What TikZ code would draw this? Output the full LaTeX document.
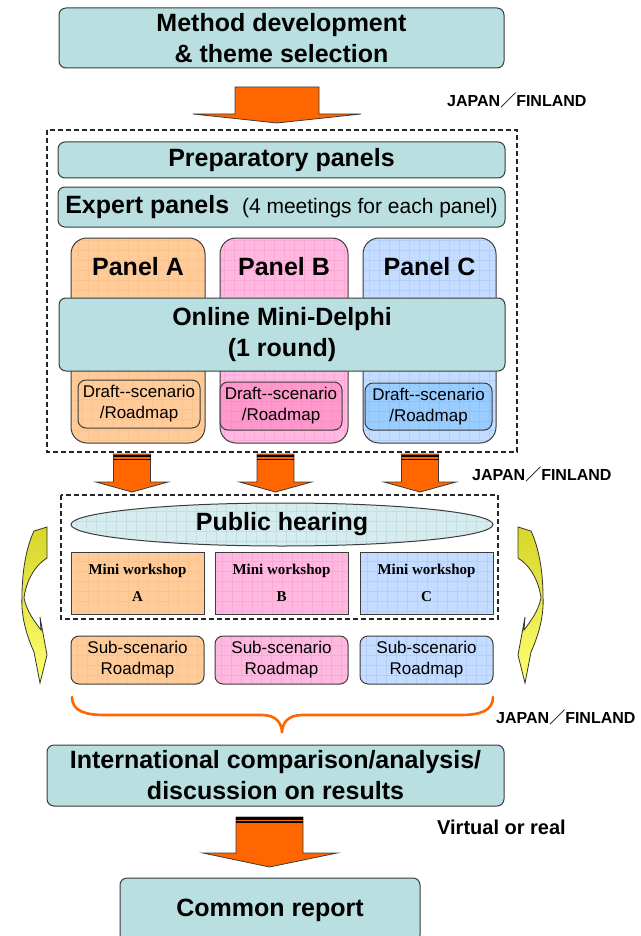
\documentclass[tikz,border=0pt]{standalone}
\usepackage{fontspec}
\setmainfont{Liberation Sans}
\newfontfamily\serifwk{Liberation Serif}
\newfontfamily\cjkslash{Noto Sans CJK JP}
\usetikzlibrary{shapes.geometric}
\definecolor{edgec}{HTML}{3C3C3C}
\definecolor{tealF}{HTML}{B9DFE1}
\definecolor{orgF}{HTML}{FFCC99}
\definecolor{orgG}{HTML}{FAC28C}
\definecolor{pnkF}{HTML}{FFB8E0}
\definecolor{pnkG}{HTML}{FCA8D6}
\definecolor{pnkD}{HTML}{FF99CC}
\definecolor{pnkDG}{HTML}{F78FC5}
\definecolor{bluF}{HTML}{C4DCFF}
\definecolor{bluG}{HTML}{B2CFF7}
\definecolor{bluD}{HTML}{99CCFF}
\definecolor{bluDG}{HTML}{8FC2F4}
\definecolor{ellF}{HTML}{D6ECEE}
\definecolor{ellG}{HTML}{C2E0E3}
\definecolor{arrowF}{HTML}{FF6600}
\definecolor{yelT}{HTML}{D6D62A}
\definecolor{yelB}{HTML}{FFFF70}
\tikzset{
  tbox/.style={draw=edgec, fill=tealF, line width=1pt, rounded corners=7pt, align=center, inner sep=0pt, font=\bfseries\fontsize{25}{31}\selectfont},
  gridded/.style={path picture={\draw[line width=0.6pt,#1] ([shift={(-15pt,-15pt)}]path picture bounding box.south west) grid[step=10pt] ([shift={(15pt,15pt)}]path picture bounding box.north east);}},
  panelbox/.style={draw=edgec, line width=1pt, rounded corners=16pt, inner sep=0pt},
  panellabel/.style={inner sep=0pt, font=\bfseries\fontsize{25}{30}\selectfont},
  draftbox/.style={draw=edgec, line width=1pt, rounded corners=8pt, inner sep=0pt, align=center, font=\fontsize{17}{21}\selectfont},
  wsbox/.style={draw=edgec, line width=1pt, inner sep=0pt, align=center, font=\serifwk\bfseries\fontsize{15}{27}\selectfont},
  dashbox/.style={draw=black!85, dash pattern=on 5pt off 3pt, line width=1.1pt},
  blockarr/.style={fill=arrowF, draw=edgec, line width=0.8pt, line join=miter},
  stripe/.style={draw=black, line width=#1},
  note/.style={font=\bfseries\fontsize{16}{19}\selectfont, anchor=west, inner sep=0pt},
  yarrow/.style={draw=black!80, line width=0.8pt, top color=yelT, bottom color=yelB},
  bracec/.style={draw=arrowF, line width=2.6pt, line cap=round},
  yellowarrow/.pic={
    \path[yarrow] (34,531) -- (47,527) -- (47,558) .. controls (34,566) and (26,582) .. (24,598)
      .. controls (27,612) and (35,622) .. (41,630) -- (40,617) -- (47,655) -- (40,683) -- (34,652)
      .. controls (25,632) and (21,613) .. (22,597) .. controls (22,572) and (26,548) .. (34,531) -- cycle;
  },
}
\begin{document}
\begin{tikzpicture}[x=1pt,y=-1pt]
\path[use as bounding box, fill=white] (0,0) rectangle (640,936);

% top box
\node[tbox, minimum width=445pt, minimum height=60pt] (top) at (281.5,38) {Method development\\\& theme selection};

% arrow 1
\path[blockarr] (235,87) -- (319,87) -- (319,114) -- (361,114) -- (277,123) -- (193,114) -- (235,114) -- cycle;
\node[note] (jf1) at (447,100) {JAPAN{\cjkslash ／}FINLAND};

% dashed box 1
\path[dashbox] (47,130) rectangle (517,452);

\node[tbox, minimum width=447pt, minimum height=36pt] (prep) at (281.5,160) {Preparatory panels};
\node[tbox, minimum width=447pt, minimum height=40pt] (expert) at (281.5,207) {Expert panels {\mdseries\fontsize{21}{25}\selectfont\ (4 meetings for each panel)}};

% panels
\node[panelbox, fill=orgF, gridded=orgG, minimum width=134pt, minimum height=205pt] (pA) at (138,340.5) {};
\node[panelbox, fill=pnkF, gridded=pnkG, minimum width=128pt, minimum height=205pt] (pB) at (284,340.5) {};
\node[panelbox, fill=bluF, gridded=bluG, minimum width=133pt, minimum height=205pt] (pC) at (429.5,340.5) {};
\node[panellabel] (pAl) at (138,267) {Panel A};
\node[panellabel] (pBl) at (284,267) {Panel B};
\node[panellabel] (pCl) at (429.5,267) {Panel C};

\node[tbox, minimum width=446pt, minimum height=73pt] (delphi) at (282,334.5) {Online Mini-Delphi\\(1 round)};

\node[draftbox, fill=orgF, gridded=orgG, minimum width=122pt, minimum height=48pt] (dA) at (139,404) {Draft-{}-scenario\\/Roadmap};
\node[draftbox, fill=pnkD, gridded=pnkDG, minimum width=122pt, minimum height=48pt] (dB) at (281,406) {\makebox[0pt]{Draft-{}-scenario}\\/Roadmap};
\node[draftbox, fill=bluD, gridded=bluDG, minimum width=127pt, minimum height=47pt] (dC) at (428.5,406.5) {\makebox[0pt]{Draft-{}-scenario}\\/Roadmap};

% three arrows
\foreach \n/\c in {a/132, b/275.5, c/420}{
  \path[blockarr] (\c-18.5,454) -- (\c+18.5,454) -- (\c+18.5,482) -- (\c+36,482) -- (\c,492) -- (\c-36,482) -- (\c-18.5,482) -- cycle;
  \draw[stripe=2pt] (\c-18.5,455.5) -- (\c+18.5,455.5);
  \draw[stripe=1pt] (\c-18.5,459) -- (\c+18.5,459);
}
\node[note] (jf2) at (472,474) {JAPAN{\cjkslash ／}FINLAND};

% dashed box 2
\path[dashbox] (61,495) rectangle (498,619);
\node[ellipse, draw=edgec, line width=1pt, fill=ellF, gridded=ellG, minimum width=422pt, minimum height=43pt, inner sep=0pt, font=\bfseries\fontsize{25}{30}\selectfont] (hear) at (282,524.5) {Public hearing};

\node[wsbox, fill=orgF, gridded=orgG, minimum width=133pt, minimum height=62pt] (wA) at (137.5,583) {Mini workshop\\A};
\node[wsbox, fill=pnkF, gridded=pnkG, minimum width=133pt, minimum height=62pt] (wB) at (281.5,583) {Mini workshop\\B};
\node[wsbox, fill=bluF, gridded=bluG, minimum width=133pt, minimum height=62pt] (wC) at (426.5,583) {Mini workshop\\C};

\node[draftbox, fill=orgF, gridded=orgG, minimum width=133pt, minimum height=48pt] (sA) at (137.5,660) {Sub-scenario\\Roadmap};
\node[draftbox, fill=pnkF, gridded=pnkG, minimum width=133pt, minimum height=48pt] (sB) at (281.5,660) {Sub-scenario\\Roadmap};
\node[draftbox, fill=bluF, gridded=bluG, minimum width=133pt, minimum height=48pt] (sC) at (426.5,660) {Sub-scenario\\Roadmap};

% yellow curved arrows
\pic at (0,0) {yellowarrow};
\pic[xscale=-1] at (565,0) {yellowarrow};

% brace
\path[bracec] (72,697) .. controls (72,711) and (85,715) .. (105,715) -- (262,715)
   .. controls (275,715) and (282,722) .. (282,733)
   .. controls (282,722) and (289,715) .. (302,715) -- (460,715)
   .. controls (480,715) and (493,711) .. (493,697);
\node[note] (jf3) at (496,717) {JAPAN{\cjkslash ／}FINLAND};

\node[tbox, minimum width=457pt, minimum height=61pt] (intl) at (275.5,775.5) {International comparison/analysis/\\discussion on results};

% arrow 4
\path[blockarr] (236,817) -- (303,817) -- (303,853) -- (337,853) -- (269.5,867) -- (203,853) -- (236,853) -- cycle;
\draw[stripe=2.2pt] (236,818.5) -- (303,818.5);
\draw[stripe=1.2pt] (236,822) -- (303,822);
\node[note, font=\bfseries\fontsize{20}{24}\selectfont] (virt) at (437,827) {Virtual or real};

\node[tbox, minimum width=300pt, minimum height=64pt] (common) at (270,910) {Common report};
\end{tikzpicture}
\end{document}
